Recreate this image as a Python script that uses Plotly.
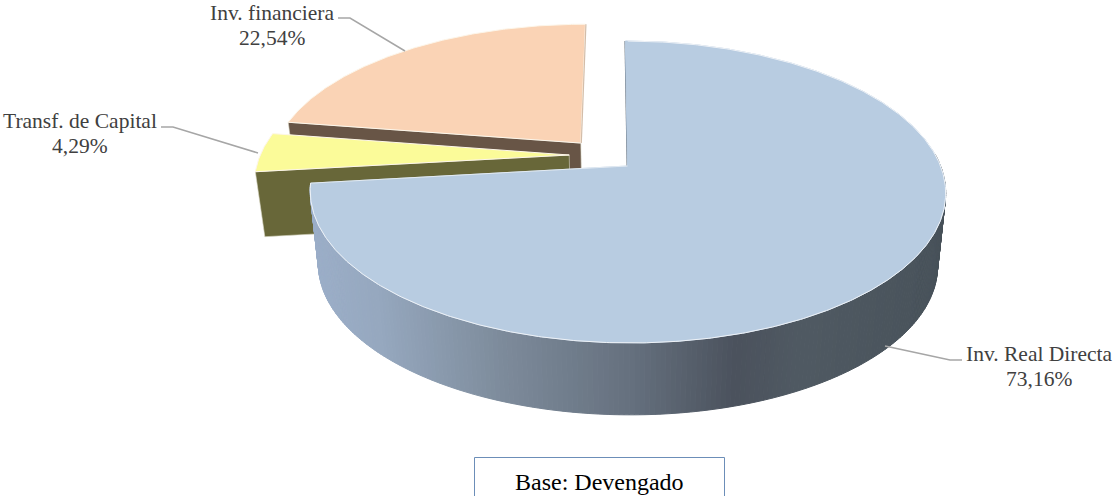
import numpy as np
import plotly.graph_objects as go

# ---- data ----
categories = ["Inv. Real Directa", "Transf. de Capital", "Inv. financiera"]
values = [73.16, 4.29, 22.54]
note = "Base: Devengado"

# ---- styles ----
top_colors = ["#B8CCE1", "#FBFB99", "#FAD3B5"]
wall_colors = [None, "#686739", "#685546"]
ink = "#404040"
serif = "Liberation Serif"

# ---- view of the pie (unit circle -> page pixels) ----
K, SKEW = 0.172, -2.5
TOP = dict(cx=627.5, cy=166.0, b=313.0, a=146.5)
BOT = dict(cx=627.5, cy=239.0, b=305.0, a=145.6)
explode = [(0.0, 0.0), (-0.188, 0.076), (-0.152, 0.161)]
wall_lift = [0.0, -8.0, -8.0]


def project(deg, r, off, view, lift=0.0):
    t = np.radians(deg)
    u = r * np.sin(t) + off[0]
    v = r * np.cos(t) + off[1]
    w = 1 + K * v
    return view["cx"] + (view["b"] * u + SKEW * v) / w, view["cy"] - view["a"] * v / w + lift


def wedge(a0, a1, off, view=TOP):
    deg = np.linspace(a0, a1, max(int(abs(a1 - a0) * 2), 2))
    x, y = project(deg, 1.0, off, view)
    ax, ay = project(0.0, 0.0, off, view)
    return np.r_[ax, x, ax], np.r_[ay, y, ay]


def poly(x, y, fill, line=None, width=1.0):
    return go.Scatter(x=x, y=y, mode="lines", fill="toself", fillcolor=fill,
                      line=dict(color=line or fill, width=width), hoverinfo="skip")


def path(x, y, color, width=1.0):
    return go.Scatter(x=x, y=y, mode="lines", line=dict(color=color, width=width), hoverinfo="skip")


total = sum(values)
edges = np.r_[0, np.cumsum(values)] / total * 360.0

fig = go.Figure()

# Slices are painted back to front: financial, transfers, then the big one.
for i in [2, 1]:
    a0, a1 = edges[i], edges[i + 1]
    off = explode[i]
    tx, ty = project(np.array([0.0, a0]), np.array([0.0, 1.0]), off, TOP)
    bx, by = project(np.array([a0, 0.0]), np.array([1.0, 0.0]), off, BOT, wall_lift[i])
    fig.add_trace(poly(np.r_[tx, bx, tx[0]], np.r_[ty, by, ty[0]], wall_colors[i], "#d9d6c4", 0.6))
    x, y = wedge(a0, a1, off)
    fig.add_trace(poly(x, y, top_colors[i], "#fdf6ea", 1.0))
    if i == 2:
        ex, ey = project(np.array([a1, 0.0]), np.array([1.0, 0.0]), off, TOP)
        fig.add_trace(path(ex + 0.5, ey, "#d3bda9", 1.2))

# Outer wall of the big slice, shaded by page position.
shade_x = [310, 380, 500, 633, 735, 800, 950]
shade_r = [0x9C, 0x96, 0x7E, 0x65, 0x4B, 0x50, 0x48]
shade_g = [0xAF, 0xA8, 0x8C, 0x70, 0x52, 0x5A, 0x52]
shade_b = [0xC9, 0xBF, 0x9C, 0x7E, 0x5D, 0x63, 0x5A]
a0, a1 = edges[0], edges[1]
steps = np.arange(85.0, a1, 0.8)
steps = np.r_[steps, a1]
for s0, s1 in zip(steps[:-1], steps[1:]):
    d = np.array([s0, s1])
    tx, ty = project(d, 1.0, explode[0], TOP)
    bx, by = project(d[::-1], 1.0, explode[0], BOT)
    mx = (tx.mean() + bx.mean()) / 2
    c = "rgb(%d,%d,%d)" % (np.interp(mx, shade_x, shade_r), np.interp(mx, shade_x, shade_g),
                           np.interp(mx, shade_x, shade_b))
    fig.add_trace(poly(np.r_[tx, bx, tx[0]], np.r_[ty, by, ty[0]], c))

# Big slice: thin dark edge at twelve o'clock, then its top with a pale rim.
ex, ey = project(np.array([0.0, 0.0]), np.array([1.0, 0.0]), explode[0], TOP)
fig.add_trace(path(ex - 0.3, ey, "#56626e", 1.2))
x, y = wedge(a0, a1, explode[0])
fig.add_trace(poly(x, y, top_colors[0]))
fig.add_trace(path(x[2:-1], y[2:-1], "#eef2f7", 1.0))
fig.add_trace(path(x[-2:], y[-2:], "#eef2f7", 0.8))

# Leader lines
leaders = [([885, 950, 962], [346, 360, 360]),
           ([338, 350, 405], [18, 18, 51]),
           ([161, 173, 258], [127, 127, 153])]
for lx, ly in leaders:
    fig.add_trace(path(lx, ly, "#a6a6a6", 1.5))

# Labels: one annotation per line, so the spacing follows the reference
label_at = {0: (1039, 353.5, 378.5), 1: (80, 120.5, 145.5), 2: (272, 12.5, 37.5)}
annotations = []
for i, (lx, y1, y2) in label_at.items():
    annotations.append(dict(x=lx, y=y1, text=categories[i], showarrow=False, xanchor="center",
                            yanchor="middle", font=dict(family=serif, size=21.5, color=ink)))
    annotations.append(dict(x=lx, y=y2, text=f"{values[i]:.2f}".replace(".", ",") + "%", showarrow=False,
                            xanchor="center", yanchor="middle",
                            font=dict(family=serif, size=21.5, color=ink)))
annotations.append(dict(x=599, y=482, text=note, showarrow=False, xanchor="center", yanchor="middle",
                        font=dict(family=serif, size=24, color="#000000")))

fig.update_layout(
    width=1114, height=496, margin=dict(l=0, r=0, t=0, b=0),
    paper_bgcolor="white", plot_bgcolor="white", showlegend=False,
    xaxis=dict(range=[0, 1114], visible=False, fixedrange=True),
    yaxis=dict(range=[496, 0], visible=False, fixedrange=True),
    annotations=annotations,
    shapes=[dict(type="rect", x0=474.5, x1=724.5, y0=457.5, y1=510,
                 line=dict(color="#6C8EB8", width=1), fillcolor="rgba(255,255,255,0)")],
)

fig.write_html("out.html", config=dict(displayModeBar=False),
               post_script="document.body.style.margin='0';document.body.style.overflow='hidden';")
